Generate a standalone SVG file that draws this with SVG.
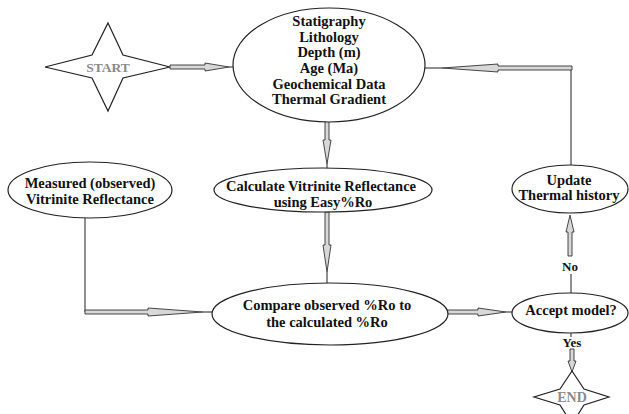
<svg xmlns="http://www.w3.org/2000/svg" width="629" height="414" viewBox="0 0 629 414">
<style>
.node{fill:#fff;stroke:#222;stroke-width:1.2}
.t{font-family:"Liberation Serif","Times New Roman",serif;font-weight:bold;font-size:14.5px;fill:#111;text-anchor:middle}
.g{font-family:"Liberation Serif","Times New Roman",serif;font-weight:bold;font-size:13.5px;fill:#8a8a8a;text-anchor:middle}
.ln{fill:none;stroke:#444;stroke-width:1.2}
.ar{fill:#d8d8d8;stroke:#333;stroke-width:0.9;stroke-linejoin:miter}
</style>
<rect width="629" height="414" fill="#fff"/>
<g id="connectors">
  <path class="ar" d="M170,65 H205 V63 L229,67 L205,71 V69 H170 Z"/>
  <path class="ln" d="M229,67 H234"/>
  <path class="ln" d="M571,68 V165"/>
  <path class="ar" d="M572,66 H498 V64 L442,68 L498,72 V70 H572 Z"/>
  <path class="ln" d="M442,68 H425"/>
  <path class="ar" d="M325,121 V140 H323 L327,164 L331,140 H329 V121 Z"/>
  <path class="ln" d="M327,164 V168"/>
  <path class="ar" d="M325,212 V245 H323 L327,272 L331,245 H329 V212 Z"/>
  <path class="ln" d="M327,272 V283"/>
  <path class="ln" d="M85,218 V312"/>
  <path class="ar" d="M85,310 H148 V308 L203,312 L148,316 V314 H85 Z"/>
  <path class="ln" d="M203,312 H212"/>
  <path class="ar" d="M447,310 H478 V308 L506,312 L478,316 V314 H447 Z"/>
  <path class="ln" d="M506,312 H512"/>
  <path class="ar" d="M568,256 V232 H566 L570,215 L574,232 H572 V256 Z"/>
  <path class="ln" d="M571,274 V293"/>
  <path class="ln" d="M571,333 V337"/>
  <path class="ar" d="M570,349 V361 H568 L572,372 L576,361 H574 V349 Z"/>
  <text class="t" x="570" y="271" style="font-size:13px">No</text>
  <text class="t" x="572" y="347" style="font-size:13px">Yes</text>
</g>
<g id="start">
  <polygon class="node" points="108,23 123,55 170,67 123,78 108,111 92,78 45,67 92,55"/>
  <text class="g" x="108" y="72">START</text>
</g>
<g id="inputs">
  <ellipse class="node" cx="329" cy="65" rx="96" ry="57"/>
  <text class="t" x="329" y="26">Statigraphy</text>
  <text class="t" x="329" y="41.7">Lithology</text>
  <text class="t" x="329" y="57.4">Depth (m)</text>
  <text class="t" x="329" y="73">Age (Ma)</text>
  <text class="t" x="329" y="88.7">Geochemical Data</text>
  <text class="t" x="329" y="104.4">Thermal Gradient</text>
</g>
<g id="measured">
  <ellipse class="node" cx="90" cy="190" rx="82" ry="28"/>
  <text class="t" x="90" y="188">Measured (observed)</text>
  <text class="t" x="90" y="204">Vitrinite Reflectance</text>
</g>
<g id="calculate">
  <ellipse class="node" cx="323" cy="190" rx="109" ry="22"/>
  <text class="t" x="321" y="191">Calculate Vitrinite Reflectance</text>
  <text class="t" x="323" y="207">using Easy%Ro</text>
</g>
<g id="update">
  <ellipse class="node" cx="570" cy="189" rx="58" ry="24"/>
  <text class="t" x="569" y="185">Update</text>
  <text class="t" x="569" y="200">Thermal history</text>
</g>
<g id="compare">
  <ellipse class="node" cx="330" cy="314" rx="118" ry="31"/>
  <text class="t" x="327" y="310">Compare observed %Ro to</text>
  <text class="t" x="327" y="327">the calculated %Ro</text>
</g>
<g id="accept">
  <ellipse class="node" cx="570" cy="313" rx="58" ry="20"/>
  <text class="t" x="571" y="315">Accept model?</text>
</g>
<g id="end">
  <polygon class="node" points="572,371 584,389 609,397 584,405 572,424 560,405 534,397 560,389"/>
  <text class="g" x="572" y="402" style="font-size:14px">END</text>
</g>
</svg>
